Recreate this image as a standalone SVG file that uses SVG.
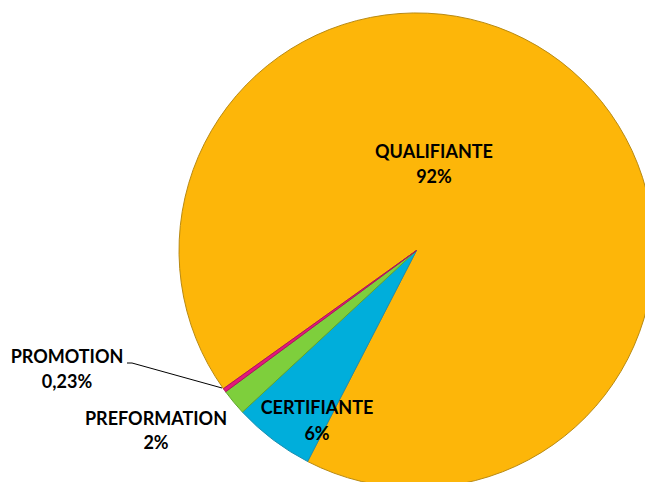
<svg xmlns="http://www.w3.org/2000/svg" width="645" height="482" viewBox="0 0 645 482">
<style>
.lbl{font-family:Lato,"Liberation Sans",sans-serif;font-weight:bold;font-size:18px;fill:#000;text-anchor:middle}
.sl{stroke-width:1;stroke-linejoin:round}
</style>
<rect width="645" height="482" fill="#fff"/>
<g id="slice-qualifiante">
<path class="sl" d="M416.5,250.5 L223.4,388.7 A237.5,237.5 0 1 1 307.6,461.5 Z" fill="#FDB609" stroke="#B98A12"/>
</g>
<g id="slice-certifiante">
<path class="sl" d="M416.5,250.5 L307.6,461.5 A237.5,237.5 0 0 1 242.4,412.1 Z" fill="#00AEDB" stroke="#1C8FB0"/>
</g>
<g id="slice-preformation">
<path class="sl" d="M416.5,250.5 L242.4,412.1 A237.5,237.5 0 0 1 225.6,391.8 Z" fill="#7ECF3C" stroke="#5FA62C"/>
</g>
<g id="slice-promotion">
<path class="sl" d="M416.5,250.5 L225.6,391.8 A237.5,237.5 0 0 1 223.4,388.7 Z" fill="#E5177B" stroke="#B0125E"/>
</g>
<g id="connectors">
<polyline points="127,363 132,363 222,388" fill="none" stroke="#000" stroke-width="1"/>
</g>
<g id="label-qualifiante">
<text class="lbl" x="434" y="158">QUALIFIANTE</text>
<text class="lbl" x="434" y="183">92%</text>
</g>
<g id="label-certifiante">
<text class="lbl" x="317" y="414">CERTIFIANTE</text>
<text class="lbl" x="317" y="440">6%</text>
</g>
<g id="label-promotion">
<text class="lbl" x="67" y="363">PROMOTION</text>
<text class="lbl" x="67" y="388">0,23%</text>
</g>
<g id="label-preformation">
<text class="lbl" x="156" y="425">PREFORMATION</text>
<text class="lbl" x="156" y="449">2%</text>
</g>
</svg>
